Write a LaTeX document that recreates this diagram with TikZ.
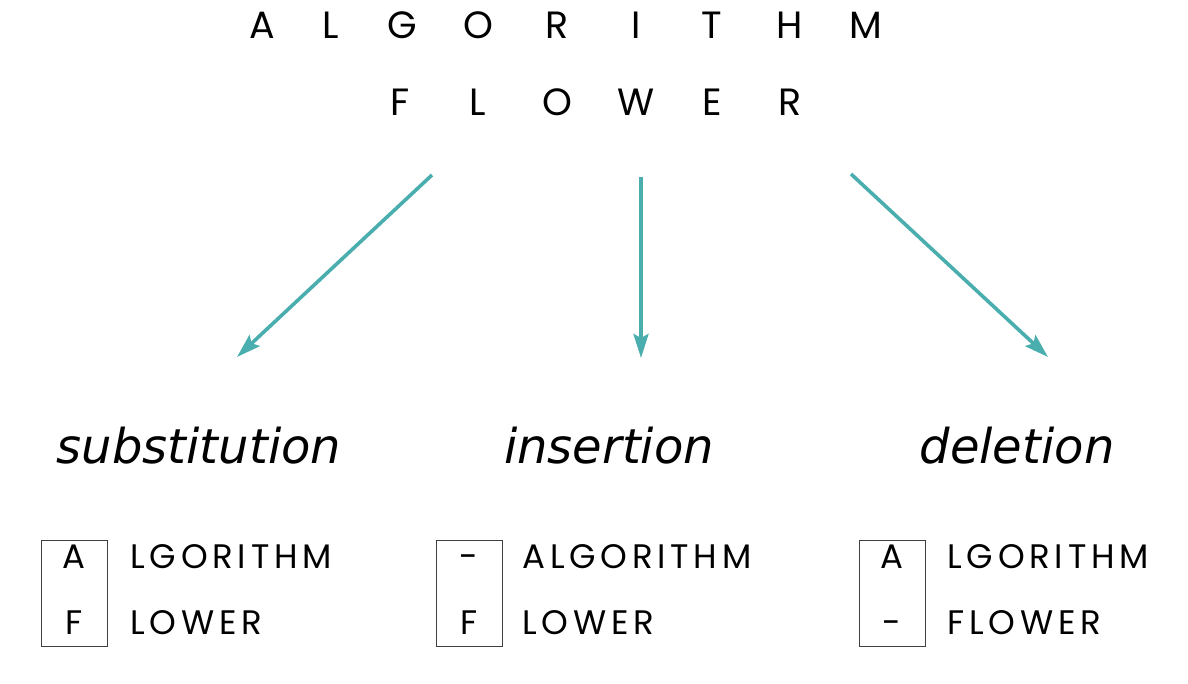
\documentclass[tikz,border=0pt]{standalone}
\usepackage{fontspec}
\setmainfont{Poppins}
\newfontfamily\opfont{DejaVu Sans}
\newfontfamily\seqfont[LetterSpace=14]{Poppins}
\usepackage{xcolor}
\usetikzlibrary{arrows.meta}
\definecolor{edgeteal}{HTML}{4BAEAE}
\tikzstyle{letter} = [font=\fontsize{19}{22}\selectfont, inner sep=0pt, anchor=base]
\tikzstyle{operation} = [font=\opfont\itshape\fontsize{24}{28}\selectfont, inner sep=0pt, anchor=base]
\tikzstyle{edit} = [draw=edgeteal, line width=1.8pt, -{Stealth[length=12pt,width=7.5pt,inset=2pt]}]
\tikzstyle{alignbox} = [draw=black!75, line width=0.5pt, rectangle, minimum width=33pt, minimum height=53pt, inner sep=0pt]
\tikzstyle{seq} = [font=\seqfont\fontsize{17}{19}\selectfont, inner sep=0pt, anchor=base west]
\tikzstyle{head} = [font=\fontsize{17}{19}\selectfont, inner sep=0pt, anchor=base]

\begin{document}
\begin{tikzpicture}[x=0.5pt, y=-0.5pt]
    \useasboundingbox (0,0) rectangle (1188,684);
    % the two words
    \foreach \ch/\xx [count=\i] in {A/262, L/331, G/402, O/478, R/557, I/636, T/712, H/790, M/866}
        \node[letter] (top\i) at (\xx,39) {\ch};
    \foreach \ch/\xx [count=\i] in {F/400, L/478, O/557, W/636, E/712, R/790}
        \node[letter] (low\i) at (\xx,116) {\ch};
    % arrows
    \coordinate (substart) at (432,175);
    \coordinate (subtip) at (237,357);
    \coordinate (insstart) at (641,177);
    \coordinate (instip) at (641,358);
    \coordinate (delstart) at (851,174);
    \coordinate (deltip) at (1048,357);
    \draw[edit] (substart) -- (subtip);
    \draw[edit] (insstart) -- (instip);
    \draw[edit] (delstart) -- (deltip);
    \node[operation] (subst) at (199,463) {substitution};
    \node[operation] (ins) at (609,463) {insertion};
    \node[operation] (del) at (1017,463) {deletion};
    % alignments
    \node[alignbox] (subbox) at (74,593) {};
    \node[head] (subA) at (74,568) {A};
    \node[head] (subF) at (74,634) {F};
    \node[seq] (subtop) at (130,568) {LGORITHM};
    \node[seq] (sublow) at (130,634) {LOWER};
    \node[alignbox] (insbox) at (469,593) {};
    \node[head] (insA) at (469,568) {-};
    \node[head] (insF) at (469,634) {F};
    \node[seq] (instop) at (522,568) {ALGORITHM};
    \node[seq] (inslow) at (522,634) {LOWER};
    \node[alignbox] (delbox) at (892,593) {};
    \node[head] (delA) at (892,568) {A};
    \node[head] (delF) at (892,634) {-};
    \node[seq] (deltop) at (947,568) {LGORITHM};
    \node[seq] (dellow) at (947,634) {FLOWER};
\end{tikzpicture}
\end{document}
